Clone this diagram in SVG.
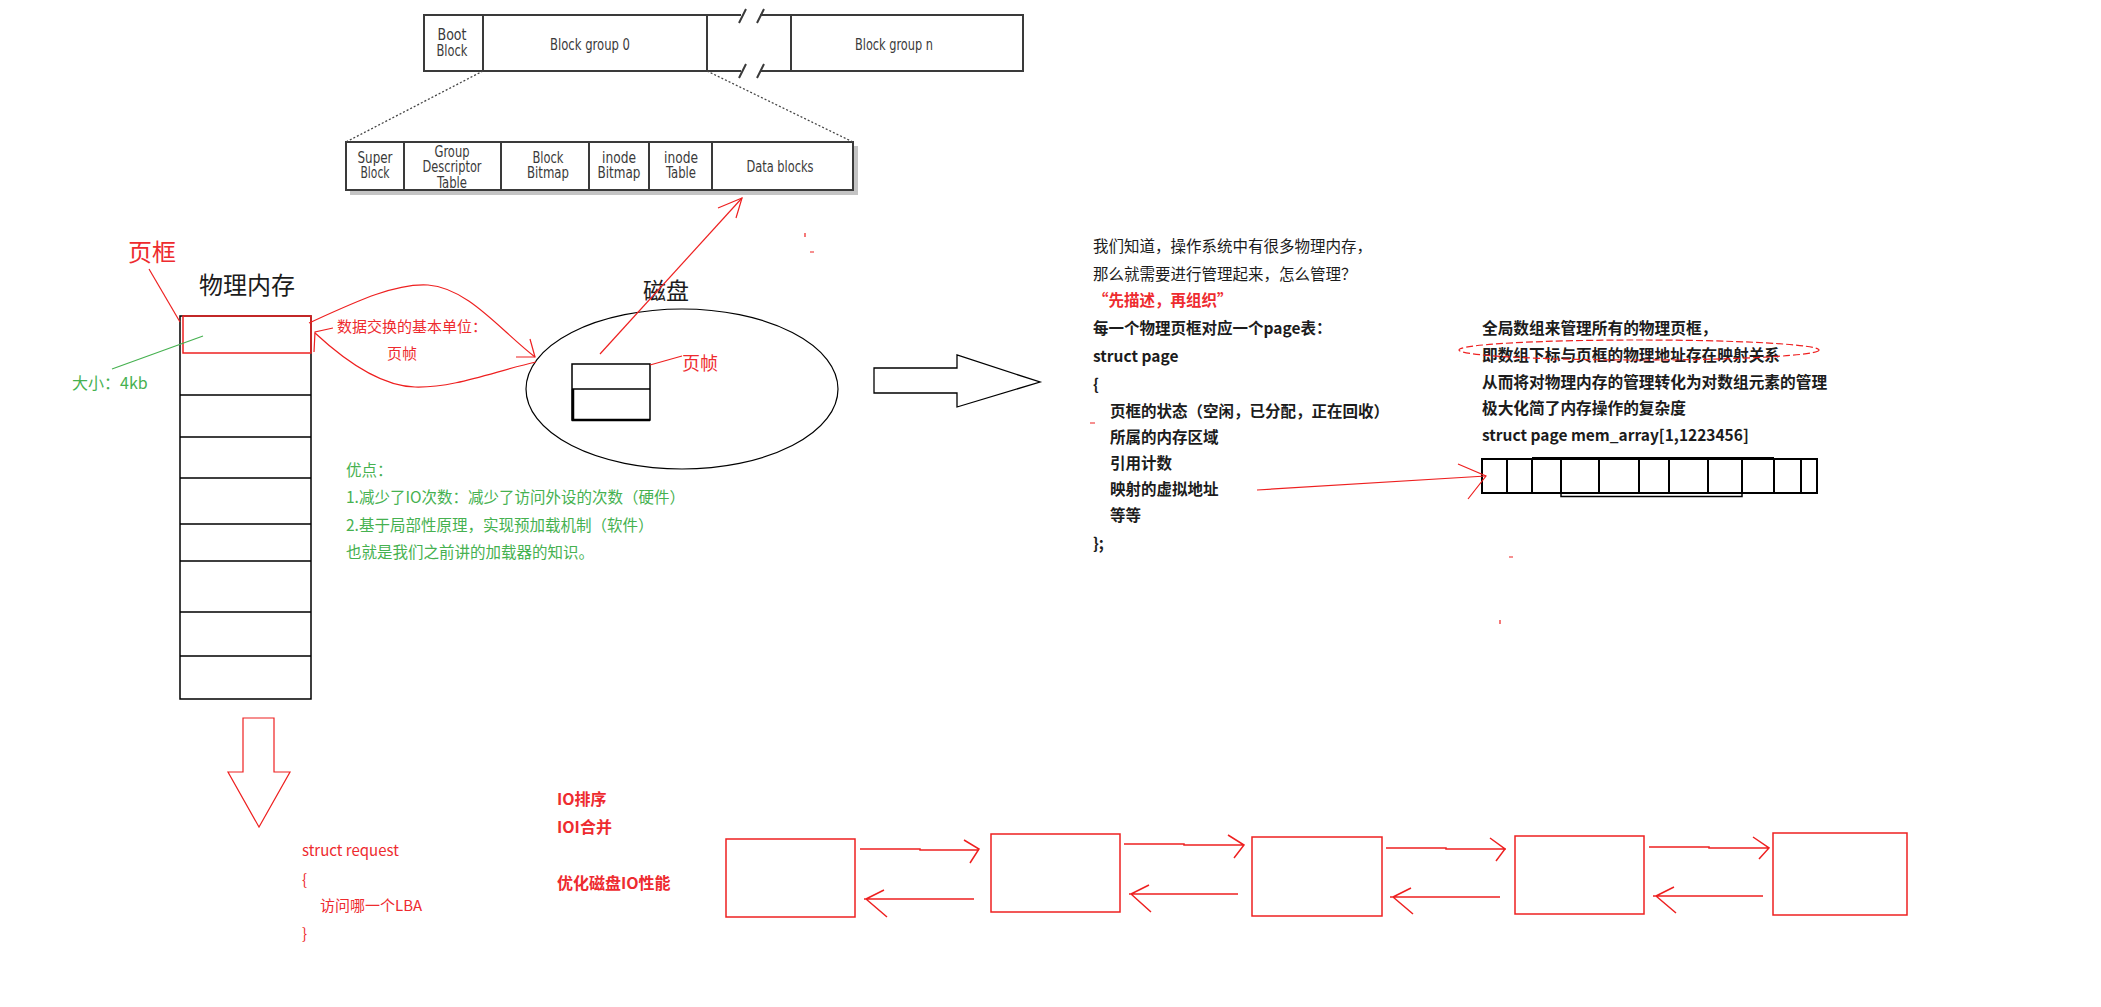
<svg xmlns="http://www.w3.org/2000/svg" width="2101" height="1007" viewBox="0 0 2101 1007">
<defs>
<style>
.fs{font-family:"Liberation Sans Narrow","DejaVu Sans Condensed","Liberation Sans",sans-serif;font-size:15px;fill:#3a3a3a;text-anchor:middle}
.cj{font-family:"Noto Sans CJK SC","Noto Sans",sans-serif;dominant-baseline:central}
.blk{fill:#1c1c1c}
.red{fill:#ee2b2f}
.grn{fill:#46b150}
.b{font-weight:bold}
.gl{stroke:#3a3a3a;stroke-width:2;fill:none}
.bl{stroke:#000;stroke-width:1.5;fill:none}
.rl{stroke:#ee2020;stroke-width:1.2;fill:none}
.rb{stroke:#ee2020;stroke-width:1.5;fill:none}
</style>
</defs>
<rect width="2101" height="1007" fill="#fff"/>

<g id="disk-layout">
<rect x="350" y="146" width="508" height="49" fill="#c4c4c4"/>
<rect x="346" y="142" width="507" height="48" style="fill:#fff;stroke:#3a3a3a;stroke-width:2"/>
<line x1="404" y1="142" x2="404" y2="190" class="gl"/>
<line x1="501" y1="142" x2="501" y2="190" class="gl"/>
<line x1="589" y1="142" x2="589" y2="190" class="gl"/>
<line x1="649" y1="142" x2="649" y2="190" class="gl"/>
<line x1="712" y1="142" x2="712" y2="190" class="gl"/>
<path d="M741,15 H424 V71 H741 M760,15 H1023 V71 H760" class="gl"/>
<line x1="483" y1="15" x2="483" y2="71" class="gl"/>
<line x1="707" y1="15" x2="707" y2="71" class="gl"/>
<line x1="791" y1="15" x2="791" y2="71" class="gl"/>
<path d="M739,23 L746,9 M757,23 L764,9 M739,78 L746,64 M757,78 L764,64" class="gl"/>
<path d="M483,71 L346,142 M707,71 L853,142" stroke="#444" stroke-width="1.3" stroke-dasharray="2,2" fill="none"/>
<text class="fs" x="452" y="40" textLength="29" lengthAdjust="spacingAndGlyphs">Boot</text>
<text class="fs" x="452" y="56" textLength="31" lengthAdjust="spacingAndGlyphs">Block</text>
<text class="fs" x="590" y="50" textLength="80" lengthAdjust="spacingAndGlyphs">Block group 0</text>
<text class="fs" x="894" y="50" textLength="78" lengthAdjust="spacingAndGlyphs">Block group n</text>
<text class="fs" x="375" y="163" textLength="35" lengthAdjust="spacingAndGlyphs">Super</text>
<text class="fs" x="375" y="178" textLength="29" lengthAdjust="spacingAndGlyphs">Block</text>
<text class="fs" x="452" y="157" textLength="35" lengthAdjust="spacingAndGlyphs">Group</text>
<text class="fs" x="452" y="172" textLength="59" lengthAdjust="spacingAndGlyphs">Descriptor</text>
<text class="fs" x="452" y="188" textLength="30" lengthAdjust="spacingAndGlyphs">Table</text>
<text class="fs" x="548" y="163" textLength="31" lengthAdjust="spacingAndGlyphs">Block</text>
<text class="fs" x="548" y="178" textLength="42" lengthAdjust="spacingAndGlyphs">Bitmap</text>
<text class="fs" x="619" y="163" textLength="34" lengthAdjust="spacingAndGlyphs">inode</text>
<text class="fs" x="619" y="178" textLength="43" lengthAdjust="spacingAndGlyphs">Bitmap</text>
<text class="fs" x="681" y="163" textLength="34" lengthAdjust="spacingAndGlyphs">inode</text>
<text class="fs" x="681" y="178" textLength="30" lengthAdjust="spacingAndGlyphs">Table</text>
<text class="fs" x="780" y="172" textLength="67" lengthAdjust="spacingAndGlyphs">Data blocks</text>
</g>

<g id="memory">
<text class="cj blk" x="247" y="283" font-size="24" text-anchor="middle">物理内存</text>
<text class="cj red" x="152" y="250" font-size="24" text-anchor="middle">页框</text>
<path d="M180,316 H311 V699 H180 Z M180,395 H311 M180,437 H311 M180,478 H311 M180,524 H311 M180,561 H311 M180,612 H311 M180,656 H311" class="bl"/>
<rect x="183" y="316" width="128" height="37" fill="none" stroke="#ee2020" stroke-width="1.5"/>
<text class="cj grn" x="72" y="382" font-size="16">大小：4kb</text>
</g>

<g id="disk">
<text class="cj blk" x="666" y="289" font-size="23" text-anchor="middle">磁盘</text>
<ellipse cx="682" cy="389" rx="156" ry="80" fill="none" stroke="#000" stroke-width="1.2"/>
<rect x="572" y="364" width="78" height="56" class="bl"/>
<line x1="572" y1="389" x2="650" y2="389" class="bl"/>
<path d="M573,389 V420 H650" stroke="#000" stroke-width="2.5" fill="none"/>
<text class="cj red" x="682" y="362" font-size="18">页帧</text>
</g>

<g id="exchange-label">
<text class="cj red" x="337" y="325" font-size="15">数据交换的基本单位：</text>
<text class="cj red" x="402" y="352" font-size="15" text-anchor="middle">页帧</text>
</g>

<g id="advantages">
<text class="cj grn" x="346" y="469" font-size="15.5">优点：</text>
<text class="cj grn" x="346" y="496" font-size="15.5">1.减少了IO次数：减少了访问外设的次数（硬件）</text>
<text class="cj grn" x="346" y="524" font-size="15.5">2.基于局部性原理，实现预加载机制（软件）</text>
<text class="cj grn" x="346" y="551" font-size="15.5">也就是我们之前讲的加载器的知识。</text>
</g>

<g id="big-arrow-right">
<path d="M874,368 H957 V355 L1040,382 L957,407 V393 H874 Z" fill="#fff" stroke="#000" stroke-width="1.3"/>
</g>

<g id="page-struct">
<text class="cj blk" x="1093" y="245" font-size="15.5">我们知道，操作系统中有很多物理内存，</text>
<text class="cj blk" x="1093" y="273" font-size="15.5">那么就需要进行管理起来，怎么管理？</text>
<text class="cj red b" x="1093" y="299" font-size="15.5">“先描述，再组织”</text>
<text class="cj blk b" x="1093" y="327" font-size="15.5">每一个物理页框对应一个page表：</text>
<text class="cj blk b" x="1093" y="355" font-size="15.5">struct page</text>
<text class="cj blk b" x="1093" y="383" font-size="15.5">{</text>
<text class="cj blk b" x="1110" y="410" font-size="15.5">页框的状态（空闲，已分配，正在回收）</text>
<text class="cj blk b" x="1110" y="436" font-size="15.5">所属的内存区域</text>
<text class="cj blk b" x="1110" y="462" font-size="15.5">引用计数</text>
<text class="cj blk b" x="1110" y="488" font-size="15.5">映射的虚拟地址</text>
<text class="cj blk b" x="1110" y="514" font-size="15.5">等等</text>
<text class="cj blk b" x="1093" y="542" font-size="15.5">};</text>
</g>

<g id="global-array">
<text class="cj blk b" x="1482" y="327" font-size="15.7">全局数组来管理所有的物理页框，</text>
<text class="cj blk b" x="1482" y="354" font-size="15.7">即数组下标与页框的物理地址存在映射关系</text>
<text class="cj blk b" x="1482" y="381" font-size="15.7">从而将对物理内存的管理转化为对数组元素的管理</text>
<text class="cj blk b" x="1482" y="407" font-size="15.7">极大化简了内存操作的复杂度</text>
<text class="cj blk b" x="1482" y="434" font-size="15.5">struct page mem_array[1,1223456]</text>
<ellipse cx="1639" cy="350" rx="180" ry="10" fill="none" stroke="#ee2020" stroke-width="1.2" stroke-dasharray="7,3"/>
</g>

<g id="mem-array">
<rect x="1482" y="459" width="335" height="34" fill="none" stroke="#000" stroke-width="2"/>
<path d="M1507,459 V493 M1532,459 V493 M1561,459 V493 M1599,459 V493 M1639,459 V493 M1669,459 V493 M1708,459 V493 M1742,459 V493 M1774,459 V493 M1801,459 V493" stroke="#000" stroke-width="2" fill="none"/>
<path d="M1532,458 H1774" stroke="#000" stroke-width="2" fill="none"/>
<path d="M1561,493 V496.5 H1742 V493" stroke="#000" stroke-width="1.5" fill="none"/>
</g>

<g id="down-arrow">
<path d="M243,718 H274 V772 H290 L259,827 L228,772 H243 Z" fill="#fff" stroke="#ee2020" stroke-width="1.2"/>
</g>

<g id="request">
<text class="cj red" x="302" y="849" font-size="15">struct request</text>
<text class="cj red" x="302" y="878" font-size="15">{</text>
<text class="cj red" x="320" y="904" font-size="15">访问哪一个LBA</text>
<text class="cj red" x="302" y="932" font-size="15">}</text>
</g>

<g id="io-notes">
<text class="cj red b" x="557" y="798" font-size="16">IO排序</text>
<text class="cj red b" x="557" y="826" font-size="16">IOI合并</text>
<text class="cj red b" x="557" y="882" font-size="16">优化磁盘IO性能</text>
</g>

<g id="req1"><rect x="726" y="839" width="129" height="78" class="rb"/></g>
<g id="req2"><rect x="991" y="834" width="129" height="78" class="rb"/></g>
<g id="req3"><rect x="1252" y="837" width="130" height="79" class="rb"/></g>
<g id="req4"><rect x="1515" y="836" width="129" height="78" class="rb"/></g>
<g id="req5"><rect x="1773" y="833" width="134" height="82" class="rb"/></g>

<g id="connectors">
<line x1="149" y1="269" x2="180" y2="322" class="rl"/>
<line x1="203" y1="336" x2="112" y2="369" stroke="#46b150" stroke-width="1.2"/>
<path d="M309,323 C355,302 395,283 428,285 C468,288 500,330 535,357" class="rl"/>
<path d="M516,357 H535 L530,339" class="rl"/>
<path d="M536,362 C495,371 455,388 415,387 C378,386 342,358 315,333" class="rl"/>
<path d="M333,328 L315,332 L314,352" class="rl"/>
<line x1="650" y1="365" x2="682" y2="356" class="rl"/>
<line x1="600" y1="354" x2="742" y2="198" class="rl"/>
<path d="M718,208 L742,198 L736,218" class="rl"/>
<path d="M805,233 V237 M810,252 H814 M1090,423 H1095 M1509,557 H1513 M1500,620 V624" class="rl"/>
<path d="M1257,490 L1486,476" class="rl"/>
<path d="M1458,464 L1486,476 L1468,499" class="rl"/>
<path d="M860,849 H920 V850 H979 M964,840 L979,849 L970,863" class="rb"/>
<path d="M974,899 H864 M884,890 L866,899 L887,917" class="rb"/>
<path d="M1124,844 H1184 V845 H1244 M1228,835 L1244,845 L1234,858" class="rb"/>
<path d="M1238,894 H1129 M1149,885 L1131,894 L1151,912" class="rb"/>
<path d="M1386,848 H1446 V849 H1506 M1490,838 L1505,849 L1496,861" class="rb"/>
<path d="M1500,897 H1390 M1411,888 L1393,897 L1413,914" class="rb"/>
<path d="M1649,847 H1709 V848 H1769 M1753,837 L1769,848 L1759,859" class="rb"/>
<path d="M1763,896 H1653 M1674,887 L1656,896 L1676,913" class="rb"/>
</g>
</svg>
